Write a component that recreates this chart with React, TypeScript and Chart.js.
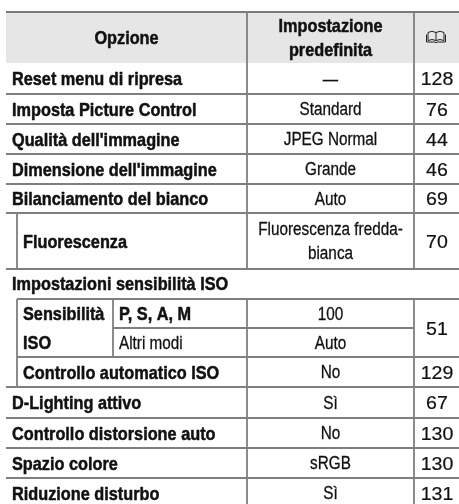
import React, { useEffect, useRef } from "react";
import { Chart, registerables } from "chart.js";

Chart.register(...registerables);

// ---- table content ----
const headerLabels = ["Opzione", "Impostazione", "predefinita"];
const optionLabels = [
  "Reset menu di ripresa",
  "Imposta Picture Control",
  "Qualità dell'immagine",
  "Dimensione dell'immagine",
  "Bilanciamento del bianco",
];
const optionDefaults = ["—", "Standard", "JPEG Normal", "Grande", "Auto"];
const optionPages = ["128", "76", "44", "46", "69"];
const subLabel = "Fluorescenza";
const subDefault = ["Fluorescenza fredda-", "bianca"];
const subPage = "70";
const isoGroupLabel = "Impostazioni sensibilità ISO";
const isoLabel = ["Sensibilità", "ISO"];
const isoModes = ["P, S, A, M", "Altri modi"];
const isoModeDefaults = ["100", "Auto"];
const isoPage = "51";
const autoIsoLabel = "Controllo automatico ISO";
const autoIsoDefault = "No";
const autoIsoPage = "129";
const tailLabels = ["D-Lighting attivo", "Controllo distorsione auto", "Spazio colore", "Riduzione disturbo"];
const tailDefaults = ["Sì", "No", "sRGB", "Sì"];
const tailPages = ["67", "130", "130", "131"];

// ---- layout (scale units) ----
const W = 459;
const H = 504;
const COL = { L: 6, I: 17, S: 113, C1: 247, C2: 414, R: 460 };
const Y_TOP = 12;
const Y_HEAD = 63;
const MAIN_EDGES = [63, 94, 124, 154, 184, 213];
const SUB_EDGES = [213, 269];
const ISO_GROUP_EDGES = [269, 299];
const ISO_EDGES = [299, 328, 357];
const AUTO_EDGES = [357, 387];
const TAIL_EDGES = [387, 418, 448, 478, 508];

const FONT = "Liberation Sans, Arial, sans-serif";
const TEXT = "#111111";
const LINE = "#7f7f7f";

const tablePlugin = {
  id: "tablePlugin",
  afterDraw(chart: any) {
    const ctx: CanvasRenderingContext2D = chart.ctx;
    const xs = chart.scales.x;
    const ys = chart.scales.y;
    const X = (v: number) => xs.getPixelForValue(v);
    const Y = (v: number) => ys.getPixelForValue(v);

    const text = (
      s: string,
      x: number,
      yc: number,
      opts: { bold?: boolean; align?: CanvasTextAlign; sx?: number; size?: number; weight?: number } = {}
    ) => {
      const size = opts.size ?? 18;
      ctx.save();
      ctx.font = `${opts.bold ? "bold " : ""}${size}px ${FONT}`;
      ctx.fillStyle = TEXT;
      ctx.strokeStyle = TEXT;
      ctx.textAlign = opts.align ?? "left";
      ctx.textBaseline = "alphabetic";
      ctx.translate(X(x), Y(yc) + size * 0.36);
      ctx.scale(opts.sx ?? 1, 1);
      ctx.fillText(s, 0, 0);
      if (opts.weight) {
        ctx.lineWidth = opts.weight;
        ctx.lineJoin = "round";
        ctx.strokeText(s, 0, 0);
      }
      ctx.restore();
    };
    const hline = (x1: number, x2: number, y: number, w = 1.8, c = LINE) => {
      ctx.save();
      ctx.strokeStyle = c;
      ctx.lineWidth = w;
      ctx.beginPath();
      ctx.moveTo(X(x1), Y(y));
      ctx.lineTo(X(x2), Y(y));
      ctx.stroke();
      ctx.restore();
    };
    const vline = (x: number, y1: number, y2: number) => {
      ctx.save();
      ctx.strokeStyle = LINE;
      ctx.lineWidth = 1.8;
      ctx.beginPath();
      ctx.moveTo(X(x), Y(y1));
      ctx.lineTo(X(x), Y(y2));
      ctx.stroke();
      ctx.restore();
    };
    const mid = (a: number, b: number) => (a + b) / 2;
    const BOLD = { bold: true, sx: 0.88, size: 18.5, weight: 0.5 };
    const BOLDC = { ...BOLD, align: "center" as CanvasTextAlign };
    const REG = { sx: 0.85, align: "center" as CanvasTextAlign, weight: 0.3 };
    const PAGE = { align: "center" as CanvasTextAlign, sx: 1.03, size: 19, weight: 0.2 };
    const TX = COL.L + 6;
    const TI = COL.I + 6;

    // header
    ctx.save();
    ctx.fillStyle = "#e6e6e6";
    ctx.fillRect(X(COL.L), Y(Y_TOP), X(COL.R) - X(COL.L), Y(Y_HEAD) - Y(Y_TOP));
    ctx.restore();
    hline(COL.L, COL.R, Y_TOP, 2.2, "#7a7a7a");
    vline(COL.C1, Y_TOP, Y_HEAD);
    vline(COL.C2, Y_TOP, Y_HEAD);
    const hc = mid(Y_TOP, Y_HEAD);
    text(headerLabels[0], mid(COL.L, COL.C1), hc, BOLDC);
    text(headerLabels[1], mid(COL.C1, COL.C2), hc - 12, BOLDC);
    text(headerLabels[2], mid(COL.C1, COL.C2), hc + 12, BOLDC);
    // book icon
    {
      const cx = X(mid(COL.C2, COL.R)) - 1;
      const cy = Y(hc) - 1;
      ctx.save();
      ctx.strokeStyle = "#222";
      ctx.lineWidth = 1;
      ctx.beginPath();
      ctx.moveTo(cx - 8, cy + 4);
      ctx.lineTo(cx - 8, cy - 4);
      ctx.quadraticCurveTo(cx - 4, cy - 6.5, cx, cy - 4);
      ctx.lineTo(cx, cy + 4);
      ctx.quadraticCurveTo(cx - 4, cy + 2, cx - 8, cy + 4);
      ctx.moveTo(cx + 8, cy + 4);
      ctx.lineTo(cx + 8, cy - 4);
      ctx.quadraticCurveTo(cx + 4, cy - 6.5, cx, cy - 4);
      ctx.moveTo(cx, cy + 4);
      ctx.quadraticCurveTo(cx + 4, cy + 2, cx + 8, cy + 4);
      ctx.moveTo(cx - 9.5, cy - 2);
      ctx.lineTo(cx - 9.5, cy + 5.5);
      ctx.lineTo(cx - 1, cy + 5.5);
      ctx.lineTo(cx, cy + 6.5);
      ctx.lineTo(cx + 1, cy + 5.5);
      ctx.lineTo(cx + 9.5, cy + 5.5);
      ctx.lineTo(cx + 9.5, cy - 2);
      ctx.stroke();
      ctx.restore();
    }

    // main rows
    optionLabels.forEach((lab, i) => {
      const a = MAIN_EDGES[i];
      const b = MAIN_EDGES[i + 1];
      vline(COL.C1, a, b);
      vline(COL.C2, a, b);
      hline(COL.L, COL.R, b);
      const c = mid(a, b);
      text(lab, TX, c, BOLD);
      text(optionDefaults[i], mid(COL.C1, COL.C2), c, REG);
      text(optionPages[i], mid(COL.C2, COL.R), c, PAGE);
    });

    // Fluorescenza sub row
    {
      const [a, b] = SUB_EDGES;
      vline(COL.I, a, b);
      vline(COL.C1, a, b);
      vline(COL.C2, a, b);
      hline(COL.L, COL.R, b);
      const c = mid(a, b);
      text(subLabel, TI, c, BOLD);
      text(subDefault[0], mid(COL.C1, COL.C2), c - 12, REG);
      text(subDefault[1], mid(COL.C1, COL.C2), c + 12, REG);
      text(subPage, mid(COL.C2, COL.R), c, PAGE);
    }

    // ISO group label
    text(isoGroupLabel, TX, mid(ISO_GROUP_EDGES[0], ISO_GROUP_EDGES[1]) - 1, BOLD);

    // ISO sensitivity block
    {
      const [a, m, b] = ISO_EDGES;
      hline(COL.I, COL.R, a);
      vline(COL.I, a, b);
      vline(COL.S, a, b);
      vline(COL.C1, a, b);
      vline(COL.C2, a, b);
      hline(COL.S, COL.C2, m);
      hline(COL.I, COL.R, b);
      const c1 = mid(a, m);
      const c2 = mid(m, b);
      text(isoLabel[0], TI, c1, BOLD);
      text(isoLabel[1], TI, c2, BOLD);
      text(isoModes[0], COL.S + 6, c1, BOLD);
      text(isoModes[1], COL.S + 6, c2, { sx: 0.85, weight: 0.3 });
      text(isoModeDefaults[0], mid(COL.C1, COL.C2), c1, REG);
      text(isoModeDefaults[1], mid(COL.C1, COL.C2), c2, REG);
      text(isoPage, mid(COL.C2, COL.R), mid(a, b), PAGE);
    }

    // auto ISO row
    {
      const [a, b] = AUTO_EDGES;
      vline(COL.I, a, b);
      vline(COL.C1, a, b);
      vline(COL.C2, a, b);
      hline(COL.L, COL.R, b);
      const c = mid(a, b);
      text(autoIsoLabel, TI, c, BOLD);
      text(autoIsoDefault, mid(COL.C1, COL.C2), c, REG);
      text(autoIsoPage, mid(COL.C2, COL.R), c, PAGE);
    }

    // tail rows
    tailLabels.forEach((lab, i) => {
      const a = TAIL_EDGES[i];
      const b = TAIL_EDGES[i + 1];
      vline(COL.C1, a, b);
      vline(COL.C2, a, b);
      if (i < tailLabels.length - 1) hline(COL.L, COL.R, b);
      const c = mid(a, b);
      text(lab, TX, c, BOLD);
      text(tailDefaults[i], mid(COL.C1, COL.C2), c, REG);
      text(tailPages[i], mid(COL.C2, COL.R), c, PAGE);
    });
  },
};

export default function App() {
  const ref = useRef<HTMLCanvasElement | null>(null);
  useEffect(() => {
    document.body.style.margin = "0";
    const canvas = ref.current;
    if (!canvas) return;
    const chart = new Chart(canvas, {
      type: "scatter",
      data: { datasets: [] },
      options: {
        animation: false,
        responsive: false,
        devicePixelRatio: 1,
        layout: { padding: 0 },
        plugins: { legend: { display: false }, tooltip: { enabled: false } },
        scales: {
          x: { type: "linear", min: 0, max: W, display: false },
          y: { type: "linear", min: 0, max: H, reverse: true, display: false },
        },
      },
      plugins: [tablePlugin],
    });
    return () => chart.destroy();
  }, []);
  return (
    <div style={{ position: "fixed", left: 0, top: 0, width: W, height: H, background: "#fff" }}>
      <canvas ref={ref} width={W} height={H} style={{ display: "block" }} />
    </div>
  );
}
